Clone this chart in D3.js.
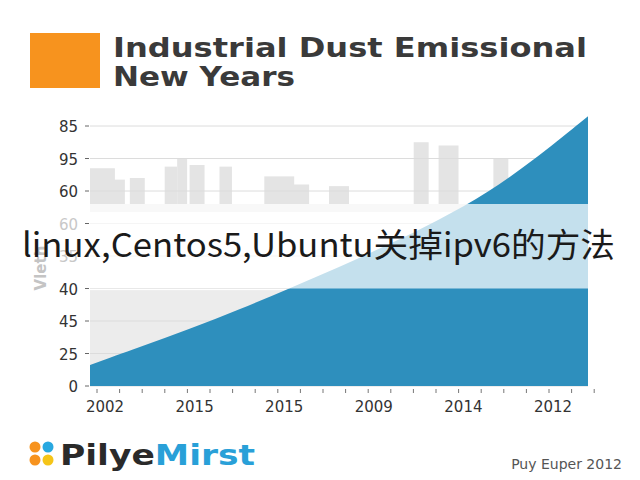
<!DOCTYPE html>
<html lang="en">
<head>
<meta charset="UTF-8">
<title>Industrial Dust Emissional New Years</title>
<style>
  body, html { margin: 0; padding: 0; background: #fff; }
  svg { font-family: "DejaVu Sans", "Noto Sans", sans-serif; }
</style>
</head>
<body>
<div id="chart"></div>
<script src="https://d3js.org/d3.v7.min.js"></script>
<script>
// chart data
const yTickLabels = ["0", "25", "45", "40", "35", "60", "60", "95", "85"];
const xTickLabels = ["2002", "2015", "2015", "2009", "2014", "2012"];
const areaValues = [0.65, 1.2, 1.75, 2.35, 3.0, 3.65, 4.35, 5.1, 5.95, 7.05, 8.3];
// background skyline heights (in tick steps above the 60 line), with start/end along x
const skyX0 = [0.0, 0.45, 0.8, 1.5, 1.75, 2.0, 2.6, 3.5, 4.0, 4.8, 6.5, 7.0, 8.1, 9.0, 9.4];
const skyX1 = [0.5, 0.7, 1.1, 1.75, 1.95, 2.3, 2.85, 4.1, 4.4, 5.2, 6.8, 7.4, 8.4, 9.6, 9.7];
const skyH  = [0.7, 0.35, 0.4, 0.75, 1.0, 0.8, 0.75, 0.45, 0.2, 0.15, 1.5, 1.4, 1.0, 0.4, 0.1];

const width = 640, height = 480;
const svg = d3.select('#chart').append('svg')
  .attr('width', width).attr('height', height);

const x = d3.scaleLinear().domain([0, areaValues.length - 1]).range([90, 588]);
const y = d3.scaleLinear().domain([0, yTickLabels.length - 1]).range([386, 126]);
const xLab = d3.scalePoint().domain(d3.range(xTickLabels.length)).range([105, 553]);

// title block
svg.append('rect').attr('x', 30).attr('y', 33).attr('width', 70).attr('height', 55).attr('fill', '#f7931e');
svg.append('text').attr('x', 113).attr('y', 57).attr('font-size', 27).attr('font-weight', 'bold')
  .attr('fill', '#3a3a3a').attr('textLength', 474).attr('lengthAdjust', 'spacingAndGlyphs')
  .text('Industrial Dust Emissional');
svg.append('text').attr('x', 113).attr('y', 86).attr('font-size', 27).attr('font-weight', 'bold')
  .attr('fill', '#3a3a3a').attr('textLength', 182).attr('lengthAdjust', 'spacingAndGlyphs')
  .text('New Years');

// backgrounds
svg.append('rect').attr('x', 90).attr('y', y(2.95)).attr('width', 498).attr('height', y(0) - y(2.95)).attr('fill', '#ececec');
svg.append('rect').attr('x', 90).attr('y', y(5.6)).attr('width', 498).attr('height', 8).attr('fill', '#e4e4e4');
const sx = d3.scaleLinear().domain([0, 10]).range([90, 588]);
svg.append('g').selectAll('rect').data(skyH).enter().append('rect')
  .attr('x', (d, i) => sx(skyX0[i]))
  .attr('width', (d, i) => sx(skyX1[i]) - sx(skyX0[i]))
  .attr('y', d => y(6 + d))
  .attr('height', d => y(5.6) - y(6 + d))
  .attr('fill', '#e4e4e4');

// grid lines
svg.append('g').selectAll('line').data(d3.range(yTickLabels.length)).enter().append('line')
  .attr('x1', 90).attr('x2', 588).attr('y1', d => y(d)).attr('y2', d => y(d))
  .attr('stroke', '#dcdcdc').attr('stroke-width', 1);

// area
const area = d3.area().curve(d3.curveBasis)
  .x((d, i) => x(i)).y0(y(0)).y1(d => y(d));
svg.append('path').datum(areaValues).attr('d', area).attr('fill', '#2e8fbd');

// light band behind the overlay text
svg.append('rect').attr('x', 90).attr('y', y(5.6)).attr('width', 498).attr('height', y(3.0) - y(5.6))
  .attr('fill', '#ffffff').attr('opacity', 0.72);

// y axis
svg.append('g').selectAll('text').data(yTickLabels).enter().append('text')
  .attr('x', 78).attr('y', (d, i) => y(i) + 6).attr('text-anchor', 'end')
  .attr('font-size', 15).attr('fill', (d, i) => (i === 4 || i === 5) ? '#c8c8c8' : '#333').text(d => d);
svg.append('g').selectAll('line').data(d3.range(yTickLabels.length)).enter().append('line')
  .attr('x1', 85).attr('x2', 89).attr('y1', d => y(d)).attr('y2', d => y(d)).attr('stroke', '#666');
svg.append('text').attr('transform', 'translate(46,268) rotate(-90)').attr('text-anchor', 'middle')
  .attr('font-size', 15).attr('font-weight', 'bold').attr('fill', '#c4c4c4').text('Vleth');

// x axis
svg.append('g').selectAll('line').data(d3.range(0, 23)).enter().append('line')
  .attr('x1', d => 97 + d * 22.6).attr('x2', d => 97 + d * 22.6)
  .attr('y1', 389).attr('y2', 393).attr('stroke', '#777');
svg.append('g').selectAll('text').data(xTickLabels).enter().append('text')
  .attr('x', (d, i) => xLab(i)).attr('y', 412).attr('text-anchor', 'middle')
  .attr('font-size', 15).attr('fill', '#333').text(d => d);

// overlay text
svg.append('text').attr('x', 22).attr('y', 257)
  .attr('font-family', '"Noto Sans CJK SC", "Noto Sans", sans-serif')
  .attr('font-size', 33).attr('fill', '#1a1a1a').attr('textLength', 593).attr('lengthAdjust', 'spacingAndGlyphs')
  .text('linux,Centos5,Ubuntu关掉ipv6的方法');

// footer logo
const dots = [[35, 447, '#f7931e'], [48, 447, '#29a8e0'], [35, 460, '#f7931e'], [48, 460, '#f5c518']];
svg.append('g').selectAll('circle').data(dots).enter().append('circle')
  .attr('cx', d => d[0]).attr('cy', d => d[1]).attr('r', 5.5).attr('fill', d => d[2]);
const logo = svg.append('text').attr('x', 60).attr('y', 465).attr('font-size', 28).attr('font-weight', 'bold')
  .attr('textLength', 195).attr('lengthAdjust', 'spacingAndGlyphs');
logo.append('tspan').attr('fill', '#2a2a2a').text('Pilye');
logo.append('tspan').attr('fill', '#29a0d8').text('Mirst');
svg.append('text').attr('x', 622).attr('y', 469).attr('text-anchor', 'end')
  .attr('font-size', 14).attr('fill', '#555').text('Puy Euper 2012');
</script>
</body>
</html>
